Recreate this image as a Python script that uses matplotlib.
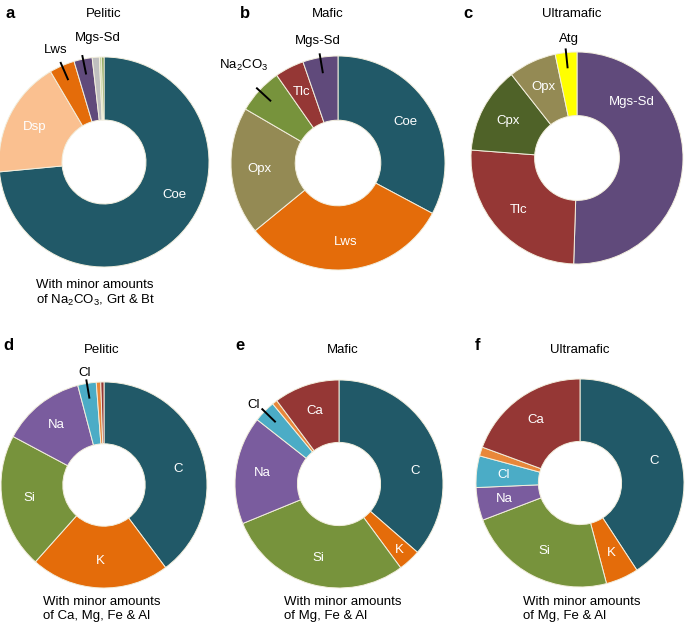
import numpy as np
import matplotlib
matplotlib.use("Agg")
import matplotlib.pyplot as plt

plt.rcParams['font.family'] = ['Liberation Sans', 'DejaVu Sans']
plt.rcParams['mathtext.fontset'] = 'custom'
plt.rcParams['mathtext.rm'] = 'Liberation Sans'
plt.rcParams['mathtext.default'] = 'regular'

NA2CO3 = 'Na$_2$CO$_3$'

# ---- data (percent, clockwise from 12 o'clock) ----
a_labels = ['Coe', 'Dsp', 'Lws', 'Mgs-Sd', '', '', '']
a_values = [73.5, 18.0, 3.9, 2.8, 1.1, 0.35, 0.35]
a_colors = ['#215968', '#FAC090', '#E46C0A', '#604A7B', '#BFBFBF', '#C3D69B', '#77933C']

b_labels = ['Coe', 'Lws', 'Opx', NA2CO3, 'Tlc', 'Mgs-Sd']
b_values = [32.8, 31.3, 19.3, 6.9, 4.4, 5.3]
b_colors = ['#215968', '#E46C0A', '#948A54', '#77933C', '#953735', '#604A7B']

c_labels = ['Mgs-Sd', 'Tlc', 'Cpx', 'Opx', 'Atg']
c_values = [50.5, 25.7, 13.2, 7.3, 3.3]
c_colors = ['#604A7B', '#953735', '#4F6228', '#948A54', '#FFFF00']

d_labels = ['C', 'K', 'Si', 'Na', 'Cl', '', '']
d_values = [39.8, 21.8, 21.2, 13.1, 2.9, 0.7, 0.5]
d_colors = ['#215968', '#E46C0A', '#77933C', '#7A5C9E', '#4BACC6', '#E8873A', '#953735']

e_labels = ['C', 'K', 'Si', 'Na', 'Cl', '', 'Ca']
e_values = [36.4, 3.5, 28.9, 16.8, 3.4, 0.8, 10.2]
e_colors = ['#215968', '#E46C0A', '#77933C', '#7A5C9E', '#4BACC6', '#E8873A', '#953735']

f_labels = ['C', 'K', 'Si', 'Na', 'Cl', '', 'Ca']
f_values = [40.8, 5.1, 23.3, 5.1, 4.9, 1.4, 19.4]
f_colors = ['#215968', '#E46C0A', '#77933C', '#7A5C9E', '#4BACC6', '#E8873A', '#953735']

titles = ['Pelitic', 'Mafic', 'Ultramafic', 'Pelitic', 'Mafic', 'Ultramafic']
letters = ['a', 'b', 'c', 'd', 'e', 'f']
notes = ['With minor amounts\nof ' + NA2CO3 + ', Grt & Bt', None, None,
         'With minor amounts\nof Ca, Mg, Fe & Al',
         'With minor amounts\nof Mg, Fe & Al',
         'With minor amounts\nof Mg, Fe & Al']

# labels drawn outside with a leader line
outside = {'a': ['Lws', 'Mgs-Sd'], 'b': [NA2CO3, 'Mgs-Sd'], 'c': ['Atg'],
           'd': ['Cl'], 'e': ['Cl'], 'f': []}
# outside text placement tweaks: (clockwise degrees from top, radius)
out_text = {('a', 'Mgs-Sd'): (357, 1.18), ('b', NA2CO3): (316, 1.27),
            ('c', 'Atg'): (356, 1.13), ('d', 'Cl'): (350, 1.1), ('e', 'Cl'): (313, 1.12)}
# label angle tweaks (clockwise degrees from top) for big slices
label_angle = {('a', 'Coe'): 115, ('c', 'Mgs-Sd'): 44, ('e', 'C'): 80,
               ('d', 'C'): 78}

# ---- layout in pixels ----
W, H = 685, 627
centers = {'a': (104, 162, 105), 'b': (338, 163, 107), 'c': (577, 158, 106),
           'd': (104, 485, 103), 'e': (339, 484, 104), 'f': (580, 483, 104)}
letter_pos = [(10, 14), (245, 14), (468, 14), (8, 345), (240, 345), (478, 345)]
title_pos = [(104, 14), (328, 14), (572, 14), (102, 350), (343, 350), (580, 350)]
note_pos = [(36, 286), None, None, (43, 603), (284, 603), (523, 603)]

fig = plt.figure(figsize=(W / 100, H / 100), dpi=100)


def fx(x):
    return x / W


def fy(y):
    return 1 - y / H


def polar(cw, rr):
    t = np.deg2rad(90 - cw)
    return rr * np.cos(t), rr * np.sin(t)


panels = {'a': (a_labels, a_values, a_colors), 'b': (b_labels, b_values, b_colors),
          'c': (c_labels, c_values, c_colors), 'd': (d_labels, d_values, d_colors),
          'e': (e_labels, e_values, e_colors), 'f': (f_labels, f_values, f_colors)}

for i, key in enumerate(letters):
    labels, values, colors = panels[key]
    cx, cy, r = centers[key]
    ax = fig.add_axes([fx(cx - r), fy(cy + r), 2 * r / W, 2 * r / H])
    wedges, _ = ax.pie(values, colors=colors, startangle=90, counterclock=False,
                       radius=1, wedgeprops=dict(width=0.6, edgecolor='#F2EEDD', linewidth=0.7))
    ax.set_xlim(-1, 1)
    ax.set_ylim(-1, 1)
    ax.set_aspect('auto')
    ax.axis('off')

    for w, lab in zip(wedges, labels):
        if not lab:
            continue
        mid_cw = 90 - (w.theta1 + w.theta2) / 2
        if lab in outside[key]:
            x0, y0 = polar(mid_cw, 0.86)
            x1, y1 = polar(mid_cw, 1.03)
            ang, rr = out_text.get((key, lab), (mid_cw, 1.16))
            xt, yt = polar(ang, rr)
            ax.plot([x0, x1], [y0, y1], color='black', lw=1.4, clip_on=False)
            ax.text(xt, yt, lab, ha='center', va='center', fontsize=9.5, color='black',
                    clip_on=False)
        else:
            ang = label_angle.get((key, lab), mid_cw)
            rr = 0.86 if (key == 'e' and lab == 'K') else 0.74
            xt, yt = polar(ang, rr)
            ax.text(xt, yt, lab, ha='center', va='center', fontsize=9.5, color='white')

    fig.text(fx(letter_pos[i][0]), fy(letter_pos[i][1]), key, fontsize=12,
             fontweight='bold', ha='center', va='center')
    fig.text(fx(title_pos[i][0]), fy(title_pos[i][1]), titles[i], fontsize=9.5,
             ha='center', va='center')
    if notes[i]:
        fig.text(fx(note_pos[i][0]), fy(note_pos[i][1] - 7), notes[i], fontsize=9.5,
                 ha='left', va='top', linespacing=1.2)

fig.savefig('out.png', dpi=100)
